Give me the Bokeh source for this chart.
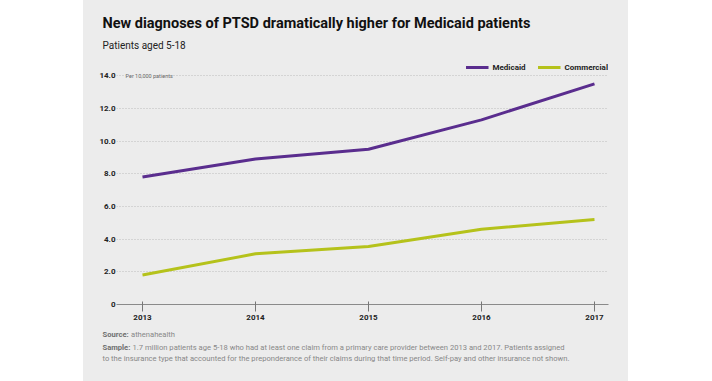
from bokeh.plotting import figure
from bokeh.models import Label, Legend, LegendItem, FixedTicker, Range1d, Spacer
from bokeh.layouts import row, column
from bokeh.embed import file_html
from bokeh.resources import INLINE

# ---- data ----
years = [2013, 2014, 2015, 2016, 2017]
medicaid = [7.8, 8.9, 9.5, 11.3, 13.5]
commercial = [1.8, 3.1, 3.55, 4.6, 5.2]
y_ticks = [0, 2, 4, 6, 8, 10, 12, 14]
y_tick_labels = ["0", "2.0", "4.0", "6.0", "8.0", "10.0", "12.0", "14.0"]
series_names = ["Medicaid", "Commercial"]

title_text = "New diagnoses of PTSD dramatically higher for Medicaid patients"
subtitle_text = "Patients aged 5-18"
unit_text = "Per 10,000 patients"
source_bold = "Source:"
source_text = "athenahealth"
sample_bold = "Sample:"
sample_line1 = "1.7 million patients age 5-18 who had at least one claim from a primary care provider between 2013 and 2017. Patients assigned"
sample_line2 = "to the insurance type that accounted for the preponderance of their claims during that time period.  Self-pay and other insurance not shown."

PURPLE = "#5a2d8e"
LIME = "#b5c21b"
BG = "#ececec"
FONT = "Roboto"
W = 545
LEFT = 83
TOP_H = 54      # title band
MAIN_H = 272    # chart band
BOT_H = 55      # footnote band


def text_band(height):
    f = figure(width=W, height=height, output_backend="svg", toolbar_location=None,
               x_range=Range1d(0, W), y_range=Range1d(height, 0),
               x_axis_type=None, y_axis_type=None, frame_align=False,
               min_border_left=0, min_border_right=0, min_border_top=0, min_border_bottom=0)
    f.background_fill_color = BG
    f.border_fill_color = BG
    f.outline_line_color = None
    f.grid.visible = False
    return f


def add_text(f, y0, text, sx, sy, size, color, bold=False):
    f.add_layout(Label(x=sx - LEFT, y=sy - y0, text=text, text_font=FONT,
                       text_font_size=size, text_color=color,
                       text_baseline="middle", text_align="left",
                       text_font_style="bold" if bold else "normal"))


# ---- title band ----
top = text_band(TOP_H)
add_text(top, 0, title_text, 102, 23, "14.5px", "#111111", bold=True)
add_text(top, 0, subtitle_text, 102, 45, "10px", "#222222")

# ---- main chart ----
p = figure(width=W, height=MAIN_H, output_backend="svg", toolbar_location=None,
           x_range=Range1d(2012.77, 2017.124), y_range=Range1d(0, 15.3), frame_align=False,
           min_border_left=33, min_border_right=20, min_border_top=0, min_border_bottom=22)
p.background_fill_color = BG
p.border_fill_color = BG
p.outline_line_color = None

r1 = p.line(years, medicaid, line_color=PURPLE, line_width=3)
r2 = p.line(years, commercial, line_color=LIME, line_width=3)

p.xaxis.ticker = FixedTicker(ticks=years)
p.xaxis.axis_line_color = "#8a8a8a"
p.xaxis.major_tick_line_color = "#777777"
p.xaxis.major_tick_in = 3
p.xaxis.major_tick_out = 7
p.xaxis.minor_tick_line_color = None
p.xaxis.major_label_standoff = 3
p.xaxis.major_label_text_font = FONT
p.xaxis.major_label_text_font_style = "bold"
p.xaxis.major_label_text_font_size = "8px"
p.xaxis.major_label_text_color = "#222222"

p.yaxis.ticker = FixedTicker(ticks=y_ticks)
p.yaxis.major_label_overrides = {t: s for t, s in zip(y_ticks, y_tick_labels)}
p.yaxis.axis_line_color = None
p.yaxis.major_tick_line_color = None
p.yaxis.major_tick_in = 0
p.yaxis.major_tick_out = 0
p.yaxis.minor_tick_line_color = None
p.yaxis.minor_tick_in = 0
p.yaxis.minor_tick_out = 0
p.yaxis.major_label_standoff = 1
p.yaxis.major_label_text_font = FONT
p.yaxis.major_label_text_font_style = "bold"
p.yaxis.major_label_text_font_size = "8px"
p.yaxis.major_label_text_color = "#222222"

p.xgrid.grid_line_color = None
p.ygrid.grid_line_color = "#bcbcbc"
p.ygrid.grid_line_dash = "1 2"
p.ygrid.grid_line_width = 1

legend = Legend(items=[LegendItem(label=series_names[0], renderers=[r1]),
                       LegendItem(label=series_names[1], renderers=[r2])],
                orientation="horizontal", location="top_right",
                background_fill_alpha=0, border_line_color=None,
                margin=0, padding=2, spacing=12, glyph_width=23, glyph_height=26,
                label_height=26, label_standoff=4, label_text_font=FONT,
                label_text_font_style="bold", label_text_font_size="8px",
                label_text_color="#222222")
p.add_layout(legend, "center")

p.add_layout(Label(x=2012.85, y=y_ticks[-1], text=unit_text, text_font=FONT,
                   text_font_size="5.5px", text_color="#666666",
                   text_baseline="middle", text_align="left",
                   background_fill_color=BG))

# ---- footnote band ----
y_bot = TOP_H + MAIN_H
bot = text_band(BOT_H)
add_text(bot, y_bot, source_bold, 102, 334, "7.6px", "#707070", bold=True)
add_text(bot, y_bot, source_text, 130.5, 334, "7.6px", "#888888")
add_text(bot, y_bot, sample_bold, 102, 346.5, "7.6px", "#707070", bold=True)
add_text(bot, y_bot, sample_line1, 132, 346.5, "7.6px", "#888888")
add_text(bot, y_bot, sample_line2, 102, 357.5, "7.6px", "#888888")

layout = row(Spacer(width=LEFT, height=TOP_H + MAIN_H + BOT_H),
             column(top, p, bot, styles={"background-color": BG}))

open("out.html", "w").write(file_html(layout, INLINE))
